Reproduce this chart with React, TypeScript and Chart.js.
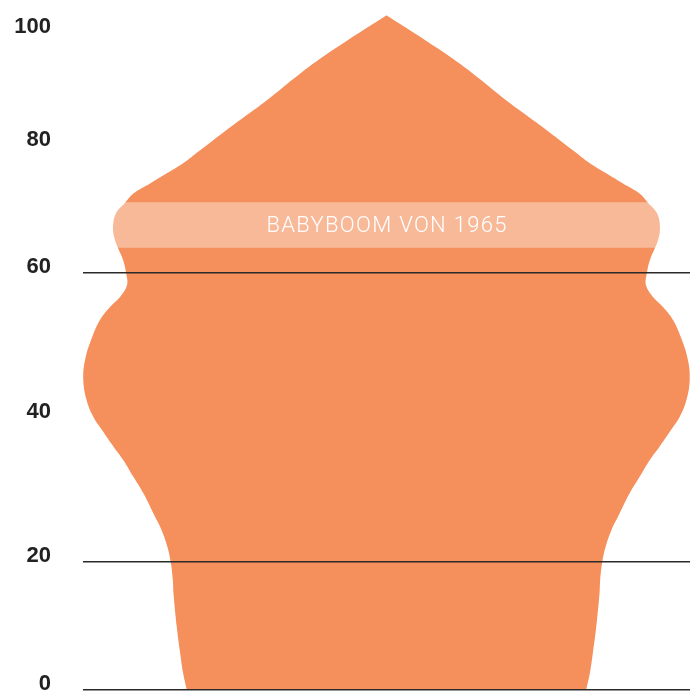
import React, { useEffect, useRef } from "react";
import { Chart, registerables } from "chart.js";

Chart.register(...registerables);

// Age (bottom -> top) and half width of the pyramid outline (share of widest cohort, %)
const ages = [2.3, 4.6, 7.4, 11.0, 15.7, 17.5, 20.0, 22.1, 24.4, 26.7, 29.5, 31.8, 34.1, 36.0, 38.3, 40.1, 42.4, 45.2, 48.0, 51.1, 53.5, 55.3, 56.7, 58.3, 60.0, 61.8, 64.6, 66.4, 68.3, 69.7, 71.0, 72.4, 73.8, 75.2, 77.0, 80.5, 83.9, 87.6, 90.9, 95.7];
const halfWidths = [65.8, 67.0, 68.0, 69.1, 70.2, 70.4, 71.1, 72.2, 74.1, 76.8, 80.1, 83.4, 86.7, 90.0, 93.8, 96.6, 98.8, 99.9, 99.3, 97.0, 94.4, 91.1, 87.8, 85.5, 85.8, 86.8, 89.5, 90.1, 89.1, 86.2, 83.4, 77.9, 72.4, 67.0, 61.4, 50.5, 39.5, 28.5, 17.6, 0];

// Y-axis tick positions and their labels
const yTickPositions = [2.3, 20, 40, 60, 77.6, 93.2];
const yTickLabels = ["0", "20", "40", "60", "80", "100"];
const yGridLabels = ["0", "20", "60"];

// Highlighted band
const bandAges = [63.5, 69.8];
const bandLabel = "BABYBOOM VON 1965";

const SHAPE_COLOR = "#F58F5C";
const BAND_COLOR = "#F8B999";

const bandPlugin = {
  id: "bandPlugin",
  afterDatasetsDraw(chart: any) {
    const { ctx, chartArea } = chart;
    const ys = chart.scales.y;
    const xs = chart.scales.x;
    const top = ys.getPixelForValue(bandAges[1]);
    const bottom = ys.getPixelForValue(bandAges[0]);
    ctx.save();
    ctx.globalCompositeOperation = "source-atop";
    ctx.fillStyle = BAND_COLOR;
    ctx.fillRect(chartArea.left, top, chartArea.right - chartArea.left, bottom - top);
    ctx.restore();
    ctx.save();
    ctx.fillStyle = "#ffffff";
    ctx.font = "300 22px Roboto";
    try {
      (ctx as any).letterSpacing = "1.3px";
    } catch (e) {}
    ctx.textAlign = "center";
    ctx.textBaseline = "middle";
    ctx.fillText(bandLabel, xs.getPixelForValue(0) + 0.6, (top + bottom) / 2 + 1);
    ctx.restore();
  },
};

export default function App() {
  const canvasRef = useRef<HTMLCanvasElement | null>(null);

  useEffect(() => {
    if (!canvasRef.current) return;
    const left = ages.map((a, i) => ({ x: -halfWidths[i], y: a }));
    const right = ages.map((a, i) => ({ x: halfWidths[i], y: a }));
    const chart = new Chart(canvasRef.current, {
      type: "line",
      data: {
        datasets: [
          {
            data: left,
            fill: "+1",
            backgroundColor: SHAPE_COLOR,
            borderWidth: 0,
            pointRadius: 0,
            tension: 0.4,
          },
          {
            data: right,
            fill: false,
            backgroundColor: SHAPE_COLOR,
            borderWidth: 0,
            pointRadius: 0,
            tension: 0.4,
          },
        ],
      },
      options: {
        indexAxis: "y",
        animation: false,
        responsive: true,
        maintainAspectRatio: false,
        layout: { padding: { top: 0, bottom: 8, left: 0, right: 0 } },
        plugins: { legend: { display: false }, tooltip: { enabled: false } },
        scales: {
          x: { type: "linear", min: -100, max: 100, display: false },
          y: {
            type: "linear",
            min: 2.28,
            max: 97.8,
            border: { display: false },
            grid: {
              z: 1,
              drawTicks: false,
              color: (ctx: any) =>
                ctx.index !== undefined && yGridLabels.includes(yTickLabels[ctx.index])
                  ? "#2a2a2a"
                  : "rgba(0,0,0,0)",
              lineWidth: 1.4,
            },
            afterBuildTicks: (scale: any) => {
              scale.ticks = yTickPositions.map((v) => ({ value: v }));
            },
            afterFit: (scale: any) => {
              scale.width = 83;
              scale.paddingTop = 0;
              scale.paddingBottom = 0;
            },
            ticks: {
              z: 1,
              padding: 32,
              labelOffset: -6,
              color: "#222222",
              font: { family: "Liberation Sans", weight: "bold", size: 22 },
              callback: (_v: any, i: number) => yTickLabels[i],
            },
          },
        },
      },
      plugins: [bandPlugin],
    } as any);
    return () => chart.destroy();
  }, []);

  return (
    <div style={{ position: "absolute", left: 0, top: 0, width: 690, height: 698, background: "#fff" }}>
      <canvas ref={canvasRef} />
    </div>
  );
}
